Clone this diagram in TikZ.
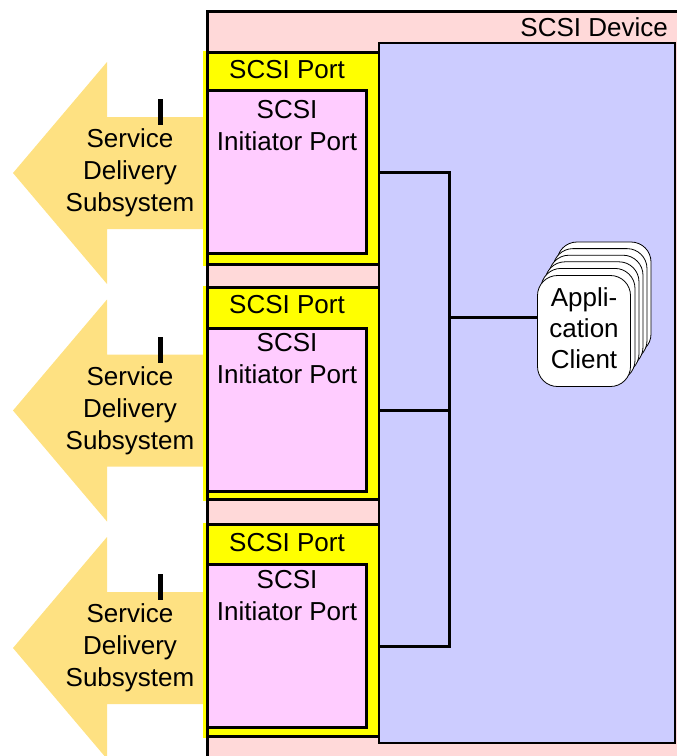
\documentclass[tikz,border=0pt]{standalone}
\usepackage{fontspec}
\setmainfont{Liberation Sans}
\usepackage{xcolor}
\usepackage{tikz}

\definecolor{devpink}{RGB}{255,217,217}
\definecolor{portyellow}{RGB}{255,255,0}
\definecolor{initpink}{RGB}{255,204,255}
\definecolor{appblue}{RGB}{204,204,255}
\definecolor{sdsgold}{RGB}{254,225,130}

\begin{document}
\begin{tikzpicture}[x=1pt, y=-1pt,
    txt/.style={font=\fontsize{26}{32}\selectfont, align=center, inner sep=0pt},
    portbox/.style={fill=portyellow, minimum width=175pt, minimum height=215pt, inner sep=0pt},
    initbox/.style={draw, line width=3pt, fill=initpink, minimum width=159pt, minimum height=163pt, inner sep=0pt},
    appbox/.style={draw, line width=2pt, fill=appblue, minimum width=296pt, minimum height=700pt, inner sep=0pt},
    clientbox/.style={draw, line width=0.8pt, fill=white, rounded corners=20pt},
    edge/.style={line width=3pt},
    wire/.style={line width=3pt}]

    \useasboundingbox (0,0) rectangle (677,756);
    \clip (0,0) rectangle (677,756);

    % SCSI device background (frame drawn last)
    \fill[devpink] (207.5,11) rectangle (700,780);
    \node[txt, anchor=base east] (devlbl) at (668,36) {SCSI Device};

    % Service delivery subsystem arrows (pointing left)
    \fill[sdsgold] (13,173) -- (107,62) -- (107,117) -- (206,117) -- (206,229) -- (107,229) -- (107,284) -- cycle;
    \fill (157.5,99) rectangle (162.5,125);
    \node[txt] (sds1) at (130,173) {Service\\Delivery\\Subsystem};

    \fill[sdsgold] (13,410.5) -- (107,299.5) -- (107,354.5) -- (206,354.5) -- (206,466.5) -- (107,466.5) -- (107,521.5) -- cycle;
    \fill (157.5,336.5) rectangle (162.5,362.5);
    \node[txt] (sds2) at (130,410.5) {Service\\Delivery\\Subsystem};

    \fill[sdsgold] (13,648) -- (107,537) -- (107,592) -- (206,592) -- (206,704) -- (107,704) -- (107,759) -- cycle;
    \fill (157.5,574) rectangle (162.5,600);
    \node[txt] (sds3) at (130,648) {Service\\Delivery\\Subsystem};

    % SCSI ports with initiator ports
    \node[portbox] (port1) at (290.5,158) {};
    \draw[edge] (206,52) -- (378,52);
    \draw[edge] (206,264) -- (378,264);
    \node[txt, anchor=base] (portlbl1) at (287,78.5) {SCSI Port};
    \node[initbox] (init1) at (287,172) {};
    \node[txt, anchor=north] (initlbl1) at (287,100) {SCSI\\Initiator Port};

    \node[portbox] (port2) at (290.5,393) {};
    \draw[edge] (206,287) -- (378,287);
    \draw[edge] (206,499) -- (378,499);
    \node[txt, anchor=base] (portlbl2) at (287,313.5) {SCSI Port};
    \node[initbox] (init2) at (287,410) {};
    \node[txt, anchor=north] (initlbl2) at (287,333) {SCSI\\Initiator Port};

    \node[portbox] (port3) at (290.5,630.5) {};
    \draw[edge] (206,524.5) -- (378,524.5);
    \draw[edge] (206,736.5) -- (378,736.5);
    \node[txt, anchor=base] (portlbl3) at (287,551) {SCSI Port};
    \node[initbox] (init3) at (287,646) {};
    \node[txt, anchor=north] (initlbl3) at (287,570.5) {SCSI\\Initiator Port};

    % Application area
    \node[appbox] (apparea) at (527,393) {};

    % Application client stack (back to front)
    \draw[clientbox] (557,242) rectangle (651,354);
    \draw[clientbox] (553,248.6) rectangle (647,360.6);
    \draw[clientbox] (549,255.2) rectangle (643,367.2);
    \draw[clientbox] (545,261.8) rectangle (639,373.8);
    \draw[clientbox] (541,268.4) rectangle (635,380.4);
    \node[clientbox, minimum width=93pt, minimum height=111pt] (client) at (584,331) {};
    \node[txt, font=\fontsize{26}{31}\selectfont] (clientlbl) at (584,328) {Appli-\\cation\\Client};

    % Wires from the initiator ports to the client
    \coordinate (bus) at (449,317);
    \draw[wire] (init1 -| apparea.west) -| (bus);
    \draw[wire] (init2 -| apparea.west) -| (bus);
    \draw[wire] (init3 -| apparea.west) -| (bus);
    \draw[wire] (bus) -- (bus -| client.west);

    % SCSI device frame
    \draw[line width=3pt] (207.5,11) rectangle (700,780);

\end{tikzpicture}
\end{document}
